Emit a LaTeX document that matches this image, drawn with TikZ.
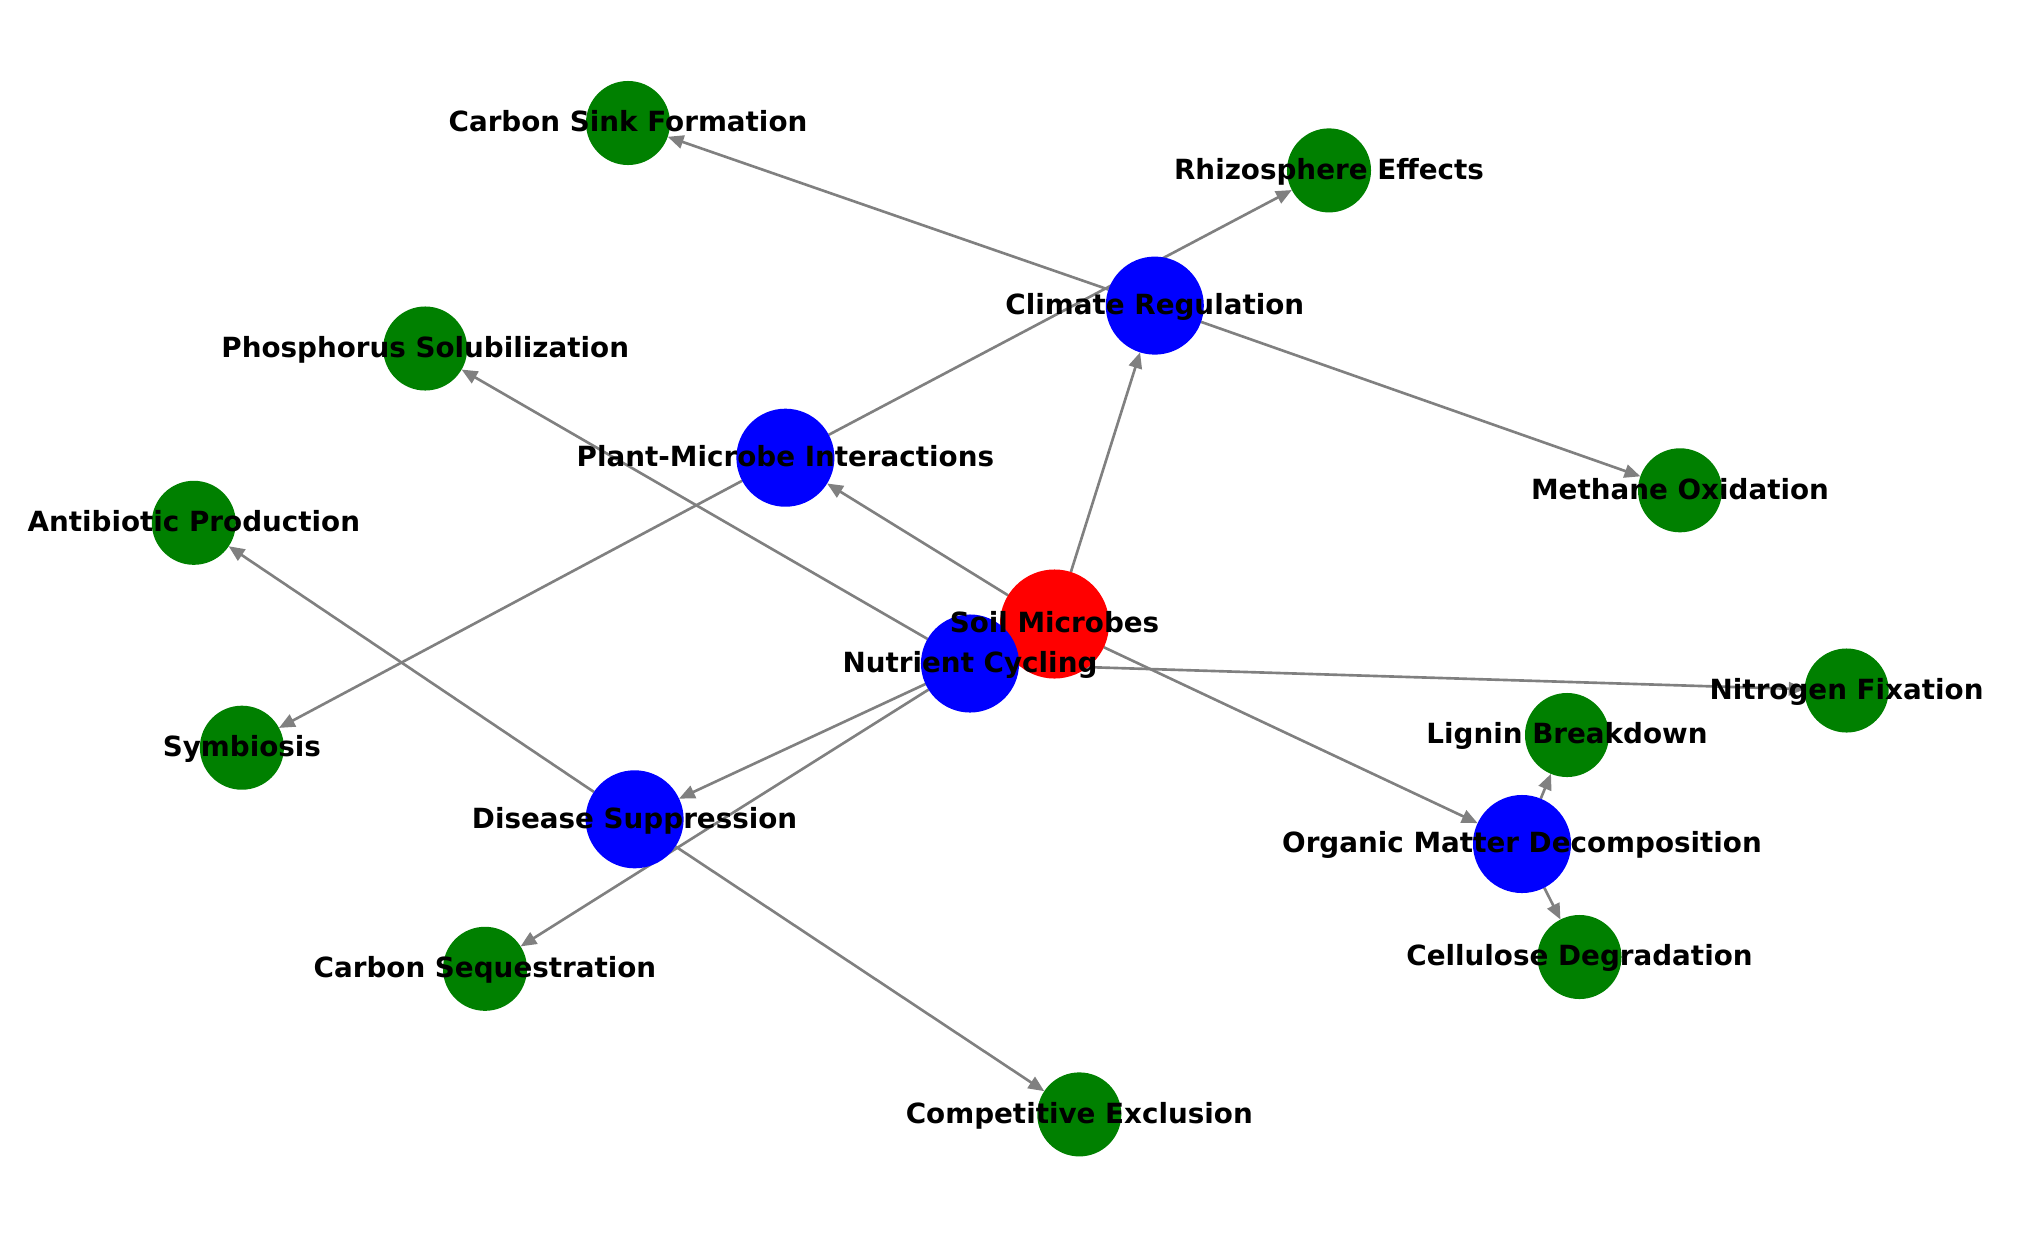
\documentclass[tikz,border=0pt]{standalone}
\usepackage{fontspec}
\setmainfont{DejaVu Sans}
\usetikzlibrary{arrows.meta, backgrounds}
\definecolor{hubred}{RGB}{255,0,0}
\definecolor{branchblue}{RGB}{0,0,255}
\definecolor{leafgreen}{RGB}{0,128,0}
\definecolor{edgegray}{RGB}{128,128,128}
\tikzset{
  hub/.style={
    circle, fill=hubred, minimum size=1.09cm, inner sep=0pt, outer sep=0pt
  },
  branch/.style={
    circle, fill=branchblue, minimum size=0.98cm, inner sep=0pt, outer sep=0pt
  },
  leaf/.style={
    circle, fill=leafgreen, minimum size=0.84cm, inner sep=0pt, outer sep=0pt
  },
  lbl/.style={
    font=\fontsize{7.9}{9}\selectfont\bfseries, text=black, inner sep=0pt,
    text height=0.76em, text depth=0.26em
  },
  arrow/.style={-{Triangle[length=4.5pt, width=3.8pt]}, line width=0.75pt, color=edgegray}
}

\begin{document}
\begin{tikzpicture}[x=0.01cm, y=-0.01cm]
  \useasboundingbox (0,0) rectangle (2039,1239);
  % nodes
  \node[hub]    (soil)  at (1054.5,624) {};
  \node[branch] (nutr)  at (970,663.5)  {};
  \node[branch] (clim)  at (1154.8,305.6) {};
  \node[branch] (plant) at (785.4,457.7) {};
  \node[branch] (dis)   at (634.6,819.3) {};
  \node[branch] (org)   at (1522,844)   {};
  \node[leaf]   (csink) at (628,123)    {};
  \node[leaf]   (rhizo) at (1329,170.4) {};
  \node[leaf]   (phos)  at (425.2,348.5) {};
  \node[leaf]   (meth)  at (1680,490.3) {};
  \node[leaf]   (anti)  at (193.8,522.8) {};
  \node[leaf]   (nitro) at (1846.6,690.5) {};
  \node[leaf]   (lig)   at (1567,735)   {};
  \node[leaf]   (symb)  at (241.9,747.7) {};
  \node[leaf]   (cseq)  at (485,968.8)  {};
  \node[leaf]   (cell)  at (1579.5,957) {};
  \node[leaf]   (comp)  at (1079.3,1114.4) {};

  % edges
  \begin{scope}[on background layer]
    \draw[arrow] (soil) -- (nutr);
    \draw[arrow] (soil) -- (clim);
    \draw[arrow] (soil) -- (plant);
    \draw[arrow] (soil) -- (dis);
    \draw[arrow] (soil) -- (org);
    \draw[arrow] (nutr) -- (phos);
    \draw[arrow] (nutr) -- (nitro);
    \draw[arrow] (nutr) -- (cseq);
    \draw[arrow] (clim) -- (csink);
    \draw[arrow] (clim) -- (meth);
    \draw[arrow] (plant) -- (rhizo);
    \draw[arrow] (plant) -- (symb);
    \draw[arrow] (dis) -- (anti);
    \draw[arrow] (dis) -- (comp);
    \draw[arrow] (org) -- (lig);
    \draw[arrow] (org) -- (cell);
  \end{scope}

  % labels
  \node[lbl] at (soil)  {Soil Microbes};
  \node[lbl] at (nutr)  {Nutrient Cycling};
  \node[lbl] at (clim)  {Climate Regulation};
  \node[lbl] at (plant) {Plant-Microbe Interactions};
  \node[lbl] at (dis)   {Disease Suppression};
  \node[lbl] at (org)   {Organic Matter Decomposition};
  \node[lbl] at (csink) {Carbon Sink Formation};
  \node[lbl] at (rhizo) {Rhizosphere Effects};
  \node[lbl] at (phos)  {Phosphorus Solubilization};
  \node[lbl] at (meth)  {Methane Oxidation};
  \node[lbl] at (anti)  {Antibiotic Production};
  \node[lbl] at (nitro) {Nitrogen Fixation};
  \node[lbl] at (lig)   {Lignin Breakdown};
  \node[lbl] at (symb)  {Symbiosis};
  \node[lbl] at (cseq)  {Carbon Sequestration};
  \node[lbl] at (cell)  {Cellulose Degradation};
  \node[lbl] at (comp)  {Competitive Exclusion};
\end{tikzpicture}
\end{document}
